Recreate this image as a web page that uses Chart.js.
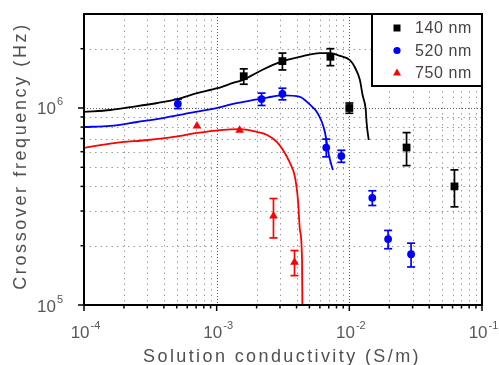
<!DOCTYPE html>
<html>
<head>
<meta charset="utf-8">
<script src="https://cdn.jsdelivr.net/npm/chart.js@4/dist/chart.umd.min.js"></script>
<style>
body{margin:0;background:#fff;}
#wrap{width:499px;height:365px;}
</style>
</head>
<body>
<div id="wrap"><canvas id="myChart" width="499" height="365"></canvas></div>
<script>
// series
let names=['140 nm','520 nm','750 nm'];
let colors=['#000000','#0000ff','#ff0000'];
let styles=['rect','circle','triangle'];

let x140=[1.6e-3,3.13e-3,7.2e-3,1.0e-2,2.7e-2,6.2e-2];
let y140=[1.45e6,1.73e6,1.82e6,1.0e6,6.3e5,4.0e5];
let e140=[1.3e5,1.7e5,1.8e5,0.6e5,1.2e5,0.85e5];

let x520=[5.1e-4,2.18e-3,3.13e-3,6.7e-3,8.7e-3,1.49e-2,1.96e-2,2.92e-2];
let y520=[1.05e6,1.11e6,1.18e6,6.3e5,5.7e5,3.5e5,2.16e5,1.81e5];
let e520=[0.57e5,0.8e5,0.8e5,0.65e5,0.4e5,0.3e5,0.23e5,0.25e5];

let x750=[7.1e-4,1.49e-3,2.68e-3,3.86e-3];
let y750=[8.1e5,7.7e5,2.83e5,1.65e5];
let e750=[0,0,0.64e5,0.24e5];

// fitted curves (sampled along the drawn lines)
let fitX140=[1e-4,1.58e-4,2.24e-4,3.57e-4,5.05e-4,7.13e-4,1.01e-3,1.33e-3,1.58e-3,2.2e-3,3.0e-3,4.24e-3,6.0e-3,7.13e-3,8.49e-3,1.01e-2,1.10e-2,1.20e-2,1.26e-2,1.33e-2,1.35e-2,1.40e-2];
let fitY140=[9.55e5,9.77e5,1.01e6,1.06e6,1.11e6,1.19e6,1.26e6,1.34e6,1.39e6,1.56e6,1.71e6,1.82e6,1.90e6,1.90e6,1.84e6,1.75e6,1.61e6,1.39e6,1.16e6,9.77e5,8.39e5,6.88e5];

let fitX520=[1e-4,1.58e-4,2.52e-4,3.96e-4,6.32e-4,1.01e-3,1.33e-3,1.79e-3,2.4e-3,3.16e-3,4.24e-3,5.05e-3,5.69e-3,6.21e-3,6.54e-3,6.77e-3,7.01e-3,7.52e-3];
let fitY520=[8.01e5,8.11e5,8.49e5,8.89e5,9.44e5,1.0e6,1.05e6,1.09e6,1.13e6,1.16e6,1.14e6,1.04e6,9.55e5,8.49e5,7.55e5,6.64e5,5.77e5,4.84e5];

let fitX750=[1e-4,1.68e-4,3.03e-4,4.75e-4,7.13e-4,1.06e-3,1.50e-3,2.02e-3,2.40e-3,2.85e-3,3.16e-3,3.57e-3,3.89e-3,4.10e-3,4.24e-3,4.40e-3,4.43e-3];
let fitY750=[6.27e5,6.64e5,6.88e5,7.13e5,7.47e5,7.73e5,7.82e5,7.55e5,7.29e5,6.71e5,6.12e5,5.26e5,4.47e5,3.41e5,2.41e5,1.69e5,9.0e4];

// axes
let xMajor=[1e-4,1e-3,1e-2,1e-1];
let xExp=['-4','-3','-2','-1'];
let yMajor=[1e5,1e6];
let yExp=['5','6'];
let xMin=1e-4, xMax=1e-1, yMin=1e5, yMax=3e6;

let seriesX=[x140,x520,x750];
let seriesY=[y140,y520,y750];
let seriesE=[e140,e520,e750];
let fitsX=[fitX140,fitX520,fitX750];
let fitsY=[fitY140,fitY520,fitY750];

function pts(xs,ys){ return xs.map((v,i)=>({x:v,y:ys[i]})); }
function minors(majors,lo,hi){
    let out=[];
    majors.forEach(m=>{ for(let k=2;k<10;k++){ let v=m*k; if(v>lo*1.0001 && v<hi*0.9999) out.push(v);} });
    return out;
}
let xMinor=minors(xMajor,xMin,xMax);
let yMinor=minors(yMajor,yMin,yMax);

const FONT="'Liberation Sans', Arial, sans-serif";

function seg(ctx,x1,y1,x2,y2){ ctx.beginPath(); ctx.moveTo(x1,y1); ctx.lineTo(x2,y2); ctx.stroke(); }

function marker(ctx,style,cx,cy,color){
    ctx.fillStyle=color;
    ctx.beginPath();
    if(style=='rect'){ ctx.rect(cx-3.5,cy-3.5,7,7); }
    else if(style=='circle'){ ctx.arc(cx,cy,3.6,0,Math.PI*2); }
    else { ctx.moveTo(cx,cy-4.5); ctx.lineTo(cx+4,cy+2.5); ctx.lineTo(cx-4,cy+2.5); ctx.closePath(); }
    ctx.fill();
}

const originLook={
    id:'originLook',
    beforeDatasetsDraw(chart){
        const {ctx,chartArea:a,scales:{x,y}}=chart;
        ctx.save();
        ctx.lineWidth=1;
        // minor grid
        ctx.strokeStyle='#9c9c9c';
        ctx.setLineDash([1.5,4]);
        xMinor.forEach(v=>{ let p=Math.round(x.getPixelForValue(v))+0.5; seg(ctx,p,a.top,p,a.bottom); });
        yMinor.forEach(v=>{ let p=Math.round(y.getPixelForValue(v))+0.5; seg(ctx,a.left,p,a.right,p); });
        // major grid
        ctx.strokeStyle='#5e5e5e';
        ctx.setLineDash([1,2]);
        xMajor.slice(1,-1).forEach(v=>{ let p=Math.round(x.getPixelForValue(v))+0.5; seg(ctx,p,a.top,p,a.bottom); });
        yMajor.slice(1).forEach(v=>{ let p=Math.round(y.getPixelForValue(v))+0.5; seg(ctx,a.left,p,a.right,p); });
        // error bars
        ctx.setLineDash([]);
        ctx.lineWidth=1.7;
        seriesX.forEach((xs,s)=>{
            ctx.strokeStyle=colors[s];
            xs.forEach((xv,i)=>{
                let e=seriesE[s][i]; if(!e) return;
                let px=x.getPixelForValue(xv);
                let t=y.getPixelForValue(seriesY[s][i]+e), b=y.getPixelForValue(seriesY[s][i]-e);
                seg(ctx,px,t,px,b);
                seg(ctx,px-4,t,px+4,t);
                seg(ctx,px-4,b,px+4,b);
            });
        });
        ctx.restore();
    },
    afterDatasetsDraw(chart){
        const {ctx,chartArea:a,scales:{x,y}}=chart;
        ctx.save();
        // frame
        ctx.strokeStyle='#000';
        ctx.lineWidth=2;
        ctx.strokeRect(a.left,a.top,a.right-a.left,a.bottom-a.top);
        // ticks
        ctx.lineWidth=1.5;
        xMajor.forEach(v=>{ let p=x.getPixelForValue(v); seg(ctx,p,a.bottom,p,a.bottom+6); });
        xMinor.forEach(v=>{ let p=x.getPixelForValue(v); seg(ctx,p,a.bottom,p,a.bottom+3.5); });
        yMajor.forEach(v=>{ let p=y.getPixelForValue(v); seg(ctx,a.left,p,a.left-6,p); });
        yMinor.forEach(v=>{ let p=y.getPixelForValue(v); seg(ctx,a.left,p,a.left-3.5,p); });
        // tick labels
        ctx.fillStyle='#585858';
        ctx.textBaseline='alphabetic';
        ctx.textAlign='left';
        xMajor.forEach((v,i)=>{
            ctx.font='17px '+FONT; let w1=ctx.measureText('10').width;
            ctx.font='11px '+FONT; let w2=ctx.measureText(xExp[i]).width;
            let p=x.getPixelForValue(v), sx=p-(w1+w2)/2+1;
            ctx.font='17px '+FONT; ctx.fillText('10',sx,a.bottom+33);
            ctx.font='11px '+FONT; ctx.fillText(xExp[i],sx+w1+1,a.bottom+23.5);
        });
        yMajor.forEach((v,i)=>{
            ctx.font='17px '+FONT; let w1=ctx.measureText('10').width;
            ctx.font='11px '+FONT; let w2=ctx.measureText(yExp[i]).width;
            let p=y.getPixelForValue(v), ex=63;
            ctx.font='17px '+FONT; ctx.fillText('10',ex-w2-1-w1,p+6.5);
            ctx.font='11px '+FONT; ctx.fillText(yExp[i],ex-w2,p-2.5);
        });
        // axis titles
        ctx.fillStyle='#505050';
        ctx.font='18px '+FONT;
        ctx.letterSpacing='2.4px';
        ctx.textAlign='center';
        ctx.fillText('Solution conductivity (S/m)',282,362);
        ctx.save();
        ctx.translate(26,156);
        ctx.rotate(-Math.PI/2);
        ctx.letterSpacing='2.6px';
        ctx.fillText('Crossover frequency (Hz)',0,0);
        ctx.restore();
        ctx.letterSpacing='0px';
        // legend
        let lx=372, lh=72;
        ctx.fillStyle='#fff';
        ctx.fillRect(lx,a.top,a.right-lx,lh);
        ctx.strokeStyle='#000';
        ctx.lineWidth=2;
        ctx.strokeRect(lx,a.top,a.right-lx,lh);
        ctx.font='16px '+FONT;
        ctx.letterSpacing='0.6px';
        ctx.textAlign='left';
        ctx.textBaseline='middle';
        names.forEach((n,i)=>{
            let cy=a.top+14+i*22.5;
            marker(ctx,styles[i],397,cy,colors[i]);
            ctx.fillStyle='#4a4242';
            ctx.fillText(n,415,cy+1);
        });
        ctx.restore();
    }
};

let datasets=[];
fitsX.forEach((fx,i)=>{
    datasets.push({
        label:names[i]+' fit',
        data:pts(fx,fitsY[i]),
        showLine:true,
        borderColor:colors[i],
        borderWidth:1.8,
        pointRadius:0,
        cubicInterpolationMode:'monotone',
        fill:false
    });
});
seriesX.forEach((sx,i)=>{
    datasets.push({
        label:names[i],
        data:pts(sx,seriesY[i]),
        showLine:false,
        pointStyle:styles[i],
        pointRadius:i==0?5.5:(i==1?3.9:5),
        backgroundColor:colors[i],
        borderColor:colors[i],
        borderWidth:0
    });
});

var ct=document.getElementById('myChart');
let chart=new Chart(ct,{
    type:'scatter',
    data:{datasets:datasets},
    options:{
        responsive:false,
        animation:false,
        devicePixelRatio:1,
        layout:{padding:{left:84,right:17,top:14,bottom:60}},
        plugins:{legend:{display:false},tooltip:{enabled:false}},
        scales:{
            x:{type:'logarithmic',min:xMin,max:xMax,display:false},
            y:{type:'logarithmic',min:yMin,max:yMax,display:false}
        }
    },
    plugins:[originLook]
});
</script>
</body>
</html>
